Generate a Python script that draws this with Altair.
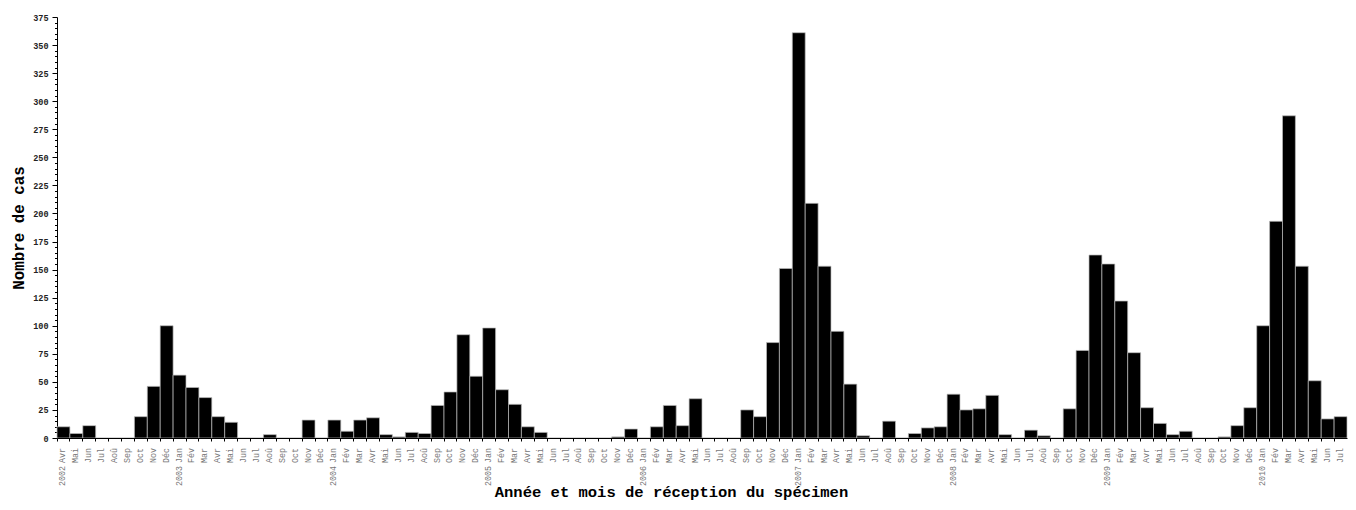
import altair as alt
import pandas as pd

FONT = "Liberation Mono"

month_names = ["Jan", "Fév", "Mar", "Avr", "Mai", "Jun", "Jul", "Aoû", "Sep", "Oct", "Nov", "Déc"]

# Cases per month (2002 starts in April, 2010 ends in July)
cases_2002 = [10, 4, 11, 0, 0, 0, 19, 46, 100]
cases_2003 = [56, 45, 36, 19, 14, 0, 0, 3, 0, 0, 16, 0]
cases_2004 = [16, 6, 16, 18, 3, 1, 5, 4, 29, 41, 92, 55]
cases_2005 = [98, 43, 30, 10, 5, 0, 0, 0, 0, 0, 1, 8]
cases_2006 = [0, 10, 29, 11, 35, 0, 0, 0, 25, 19, 85, 151]
cases_2007 = [361, 209, 153, 95, 48, 2, 0, 15, 0, 4, 9, 10]
cases_2008 = [39, 25, 26, 38, 3, 0, 7, 2, 0, 26, 78, 163]
cases_2009 = [155, 122, 76, 27, 13, 3, 6, 0, 0, 1, 11, 27]
cases_2010 = [100, 193, 287, 153, 51, 17, 19]

years = [2002, 2003, 2004, 2005, 2006, 2007, 2008, 2009, 2010]
series = [cases_2002, cases_2003, cases_2004, cases_2005, cases_2006,
          cases_2007, cases_2008, cases_2009, cases_2010]
start_month = {2002: 3}

rows = []
for yr, vals in zip(years, series):
    m0 = start_month.get(yr, 0)
    for i, v in enumerate(vals):
        m = m0 + i
        rows.append({
            "key": f"{yr}-{m + 1:02d}",
            "month": month_names[m],
            "year_label": str(yr) if i == 0 else "",
            "cases": v,
        })
df = pd.DataFrame(rows)
keys = list(df["key"])

W, H = 1290, 421

xscale = alt.Scale(paddingInner=0, paddingOuter=0)

bars = alt.Chart(df).mark_bar(color="black", stroke="#bbbbbb", strokeWidth=0.7).encode(
    x=alt.X("key:O", sort=keys, scale=xscale,
            axis=alt.Axis(labels=False, bandPosition=0, tickSize=3, tickColor="black",
                          domainColor="black", zindex=1,
                          title="Année et mois de réception du spécimen",
                          titleFont=FONT, titleFontSize=15.5, titleFontWeight="bold",
                          titleColor="black", titleX=614, titleY=58,
                          titleAlign="center", titleBaseline="alphabetic")),
    y=alt.Y("cases:Q", scale=alt.Scale(domain=[0, 375], nice=False),
            axis=alt.Axis(values=list(range(0, 376, 5)),
                          labelExpr="datum.value % 25 === 0 ? datum.label : ''",
                          labelOverlap=False,
                          tickSize={"condition": {"test": "datum.value % 25 === 0", "value": 5}, "value": 2.5},
                          tickColor="black", domainColor="black",
                          labelFont=FONT, labelFontSize=8.5, labelFontWeight="bold",
                          labelColor="#222222", labelPadding=4, grid=False,
                          title="Nombre de cas", titleFont=FONT, titleFontSize=15.8,
                          titleFontWeight="bold", titleColor="black",
                          titleAngle=270, titleX=-39, titleY=H / 2,
                          titleAlign="center", titleBaseline="middle")),
)

month_text = alt.Chart(df).mark_text(
    angle=270, align="right", baseline="middle", font=FONT, fontSize=8.3, color="#777777"
).encode(
    x=alt.X("key:O", sort=keys, scale=xscale),
    y=alt.value(H + 10),
    text="month:N",
)

year_text = alt.Chart(df).transform_filter("datum.year_label != ''").mark_text(
    angle=270, align="right", baseline="middle", font=FONT, fontSize=8.3, color="#777777"
).encode(
    x=alt.X("key:O", sort=keys, scale=xscale),
    y=alt.value(H + 28),
    text="year_label:N",
)

chart = alt.layer(bars, month_text, year_text).properties(
    width=W, height=H,
    autosize=alt.AutoSizeParams(type="none"),
    padding={"left": 49, "top": 9, "right": 1, "bottom": 64},
).configure_view(stroke=None)

chart.save("out.html", embed_options={"renderer": "svg", "actions": False})
